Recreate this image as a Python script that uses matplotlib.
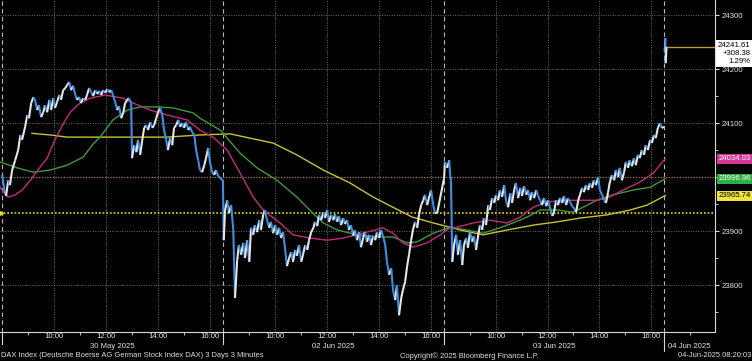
import numpy as np
import matplotlib
matplotlib.use("Agg")
import matplotlib.pyplot as plt
import matplotlib.transforms as mtransforms
from matplotlib.collections import LineCollection
from matplotlib import font_manager

# x axis = minutes since 30 May 08:00 on a session-only scale (each day 08:00-16:30 = 510 min)
DAY_LEN = 510
day_names = ["30 May 2025", "02 Jun 2025", "03 Jun 2025", "04 Jun 2025"]
hour_ticks = [10, 12, 14, 16]
hour_minor = [9, 11, 13, 15]

# DAX 3-minute price path
d1_min = [0, 5, 9, 14, 18, 23, 30, 37, 42, 46, 53, 58, 62, 67, 72, 76, 81, 85, 90, 95,
          99, 104, 109, 113, 118, 122, 127, 132, 136, 141, 146, 150, 155, 159, 164, 169, 173, 178, 182, 187,
          192, 196, 201, 206, 210, 215, 219, 224, 229, 233, 238, 243, 247, 252, 256, 261, 266, 270, 275, 280,
          284, 289, 293, 298, 300, 305, 310, 314, 319, 323, 328, 333, 337, 342, 347, 351, 356, 360, 365, 370,
          374, 379, 383, 388, 393, 397, 402, 407, 411, 416, 420, 425, 430, 434, 439, 444, 448, 453, 457, 462,
          467, 471, 476, 480, 485, 490, 494, 499, 504]
d1_val = [24004, 23976, 23965, 23994, 23985, 24013, 24031, 24050, 24078, 24069, 24093, 24115, 24109, 24137, 24148, 24143, 24124, 24133, 24111, 24120,
          24133, 24120, 24143, 24124, 24146, 24128, 24139, 24152, 24143, 24161, 24165, 24170, 24176, 24161, 24169, 24152, 24143, 24148, 24137, 24146,
          24143, 24152, 24165, 24157, 24150, 24161, 24154, 24159, 24152, 24161, 24156, 24163, 24157, 24161, 24152, 24139, 24124, 24131, 24109, 24120,
          24137, 24143, 24146, 24137, 24035, 24059, 24046, 24069, 24041, 24065, 24091, 24096, 24087, 24102, 24091, 24096, 24109, 24120, 24128, 24115,
          24087, 24069, 24050, 24072, 24059, 24091, 24096, 24106, 24093, 24100, 24091, 24102, 24087, 24093, 24083, 24078, 24050, 24031, 24013, 24009,
          24022, 24035, 24054, 24028, 24009, 24004, 24013, 24002, 23998]

d2_min = [510, 512, 515, 520, 524, 529, 534, 538, 543, 547, 552, 557, 561, 566, 571, 575, 580, 584, 589, 594,
          598, 603, 607, 612, 617, 621, 626, 631, 635, 640, 644, 649, 654, 658, 663, 668, 672, 677, 681, 686,
          691, 695, 700, 705, 709, 714, 719, 723, 728, 732, 737, 742, 746, 751, 755, 760, 765, 769, 774, 778,
          783, 788, 792, 797, 801, 806, 811, 815, 820, 825, 829, 834, 838, 843, 848, 852, 857, 862, 866, 871,
          875, 880, 885, 889, 894, 899, 903, 908, 912, 917, 922, 926, 931, 936, 940, 945, 949, 954, 959, 963,
          968, 973, 977, 982, 986, 991, 996, 1000, 1005]
d2_val = [23994, 23883, 23939, 23957, 23933, 23948, 23902, 23776, 23846, 23874, 23856, 23878, 23850, 23883, 23843, 23906, 23893, 23911, 23898, 23920,
          23902, 23930, 23939, 23920, 23906, 23917, 23896, 23911, 23893, 23906, 23887, 23898, 23865, 23835, 23850, 23861, 23843, 23865, 23854, 23874,
          23843, 23856, 23874, 23865, 23883, 23898, 23906, 23917, 23909, 23930, 23920, 23935, 23924, 23939, 23917, 23930, 23920, 23931, 23917, 23928,
          23911, 23924, 23913, 23920, 23902, 23911, 23891, 23902, 23883, 23898, 23870, 23887, 23898, 23880, 23893, 23874, 23891, 23883, 23898, 23887,
          23902, 23891, 23874, 23843, 23819, 23831, 23791, 23772, 23800, 23744, 23776, 23791, 23806, 23837, 23856, 23883, 23902, 23917, 23906, 23930,
          23948, 23957, 23967, 23948, 23961, 23976, 23948, 23933, 23933]

d3_min = [1021, 1023, 1028, 1033, 1035, 1037, 1040, 1044, 1049, 1053, 1058, 1063, 1067, 1072, 1076, 1081, 1086, 1090, 1095, 1100,
          1104, 1109, 1113, 1118, 1123, 1127, 1132, 1137, 1141, 1146, 1150, 1155, 1160, 1164, 1169, 1174, 1178, 1183, 1187, 1192,
          1197, 1201, 1206, 1211, 1215, 1220, 1224, 1229, 1234, 1238, 1243, 1247, 1252, 1257, 1261, 1266, 1271, 1275, 1280, 1284,
          1289, 1294, 1298, 1303, 1307, 1312, 1317, 1321, 1326, 1331, 1335, 1340, 1344, 1349, 1354, 1358, 1363, 1367, 1372, 1377,
          1381, 1386, 1391, 1395, 1400, 1404, 1409, 1414, 1418, 1423, 1427, 1432, 1437, 1441, 1446, 1450, 1455, 1460, 1464, 1469,
          1473, 1478, 1483, 1487, 1492, 1497, 1501, 1506, 1510, 1515, 1520, 1524, 1529]
d3_val = [23998, 24028, 24017, 24031, 24004, 23994, 23843, 23874, 23893, 23856, 23883, 23837, 23874, 23887, 23869, 23898, 23880, 23891, 23865, 23893,
          23911, 23902, 23924, 23911, 23948, 23939, 23961, 23952, 23967, 23957, 23976, 23963, 23985, 23957, 23944, 23970, 23952, 23976, 23989, 23961,
          23980, 23965, 23983, 23967, 23976, 23957, 23972, 23961, 23976, 23965, 23957, 23948, 23961, 23946, 23957, 23943, 23928, 23935, 23957, 23948,
          23961, 23952, 23965, 23948, 23961, 23954, 23946, 23943, 23935, 23957, 23967, 23980, 23972, 23985, 23976, 23989, 23980, 23994, 23985, 24000,
          23976, 23967, 23957, 23952, 23972, 23991, 24004, 23994, 24013, 24000, 24017, 23994, 24009, 24028, 24017, 24031, 24020, 24035, 24022, 24041,
          24035, 24050, 24041, 24059, 24050, 24069, 24063, 24078, 24072, 24091, 24100, 24091, 24093]

d4_min = [1531, 1532, 1533, 1535]
d4_val = [24232, 24257, 24211, 24241.61]

# moving averages
ma_fast_min = [-5, 5, 14, 30, 46, 65, 88, 104, 122, 139, 157, 180, 203, 238, 280, 303, 342, 381, 427, 457,
               487, 520, 550, 580, 603, 642, 672, 711, 751, 788, 843, 880, 903, 926, 949, 982, 1012, 1035, 1051, 1088,
               1127, 1167, 1197, 1227, 1259, 1305, 1342, 1374, 1398, 1435, 1474, 1504, 1532]
ma_fast_val = [23982, 23970, 23963, 23967, 23976, 23994, 24019, 24035, 24069, 24096, 24120, 24137, 24146, 24152, 24146, 24137, 24124, 24115, 24106, 24087,
               24074, 24050, 24007, 23963, 23939, 23915, 23893, 23887, 23883, 23887, 23898, 23906, 23896, 23878, 23870, 23878, 23893, 23906, 23907, 23915,
               23920, 23915, 23926, 23944, 23954, 23957, 23957, 23957, 23961, 23976, 23991, 24007, 24034.03]

ma_mid_min = [-5, 35, 72, 111, 150, 187, 210, 226, 256, 289, 319, 358, 395, 441, 457, 504, 550, 589, 635, 681,
              718, 742, 774, 820, 873, 903, 936, 959, 996, 1035, 1074, 1111, 1150, 1180, 1213, 1243, 1282, 1319, 1342, 1374,
              1411, 1458, 1497, 1532]
ma_mid_val = [24028, 24017, 24009, 24013, 24022, 24037, 24061, 24074, 24106, 24124, 24130, 24130, 24128, 24119, 24109, 24087, 24044, 24017, 23994, 23963,
              23933, 23915, 23902, 23893, 23889, 23889, 23878, 23880, 23896, 23907, 23902, 23896, 23906, 23915, 23926, 23939, 23939, 23935, 23944, 23957,
              23967, 23976, 23981, 23996.96]

ma_slow_min = [69, 111, 150, 226, 303, 381, 457, 527, 573, 626, 681, 742, 804, 857, 903, 947, 996, 1035, 1058, 1111,
               1167, 1227, 1282, 1335, 1398, 1451, 1490, 1532]
ma_slow_val = [24081, 24078, 24074, 24074, 24074, 24074, 24078, 24080, 24072, 24063, 24041, 24013, 23989, 23963, 23944, 23926, 23915, 23907, 23902, 23893,
               23902, 23911, 23917, 23924, 23930, 23939, 23948, 23965.74]

prev_close = 23933.23
last_price = 24241.61
net_change = 308.38
pct_change = 1.29
level_line = 24000

BG = "black"
TXT = "#e2e2e2"
UP = "#e6e6e6"
DOWN = "#3d8fe6"
FS = 6.4
FS_FOOT = 6.2

installed = {f.name for f in font_manager.fontManager.ttflist}
narrow = [f for f in ["Liberation Sans Narrow", "DejaVu Sans Condensed"] if f in installed]
plt.rcParams["font.family"] = narrow + ["Liberation Sans", "DejaVu Sans"]
if not narrow:
    FS, FS_FOOT = 5.6, 5.4

fig = plt.figure(figsize=(7.52, 3.61), dpi=100, facecolor=BG)
ax = fig.add_axes([0.0, 29 / 361, 715 / 752, 332 / 361], facecolor=BG)

x_end = 1647
ax.set_xlim(-5, x_end)
ax.set_ylim(23713, 24328)

# grid
for d in range(4):
    for h in hour_ticks:
        xm = d * DAY_LEN + (h - 8) * 60
        if xm < x_end:
            ax.axvline(xm, color="#6a6a6a", lw=0.7, ls=(0, (1, 1.5)), zorder=1)
    ax.axvline(d * DAY_LEN, color="#b8b8b8", lw=0.8, ls=(0, (4, 3)), zorder=1)
for yv in [23800, 23900, 24100, 24200, 24300]:
    ax.axhline(yv, color="#6a6a6a", lw=0.7, ls=(0, (1, 1.5)), zorder=1)
ax.axhline(level_line, color="#b07a30", lw=0.9, ls=(0, (1, 1.2)), zorder=1)

# previous close
ax.axhline(prev_close, color="#e8e000", lw=1.2, ls=(0, (1, 1.2)), zorder=2)
ax.plot([-4], [prev_close], marker=">", ms=4, color="#e8e000", clip_on=False, zorder=5)

# moving averages
ax.plot(ma_slow_min, ma_slow_val, color="#c9c23a", lw=1.0, zorder=3)
ax.plot(ma_mid_min, ma_mid_val, color="#3f9a3c", lw=1.0, zorder=3)
ax.plot(ma_fast_min, ma_fast_val, color="#c42a7c", lw=1.0, zorder=3)

# price path, white on up-moves and blue on down-moves
def draw_path(t, v):
    t = np.asarray(t, dtype=float)
    v = np.asarray(v, dtype=float)
    pts = np.column_stack([t, v]).reshape(-1, 1, 2)
    segs = np.concatenate([pts[:-1], pts[1:]], axis=1)
    cols = [UP if b >= a else DOWN for a, b in zip(v[:-1], v[1:])]
    ax.add_collection(LineCollection(segs, colors=cols, linewidths=1.5, zorder=4))

draw_path(d1_min + d2_min + d3_min, d1_val + d2_val + d3_val)
draw_path(d4_min, d4_val)
ax.hlines(last_price, d4_min[-1], x_end, color="#c99a30", lw=1.0, zorder=3)

# axes styling
for s in ["top", "left"]:
    ax.spines[s].set_visible(False)
ax.spines["right"].set_color("#d8d8d8")
ax.spines["bottom"].set_color("#d8d8d8")

ax.yaxis.tick_right()
# the 24000 label sits under the green tag in the original, so it is left blank
ax.set_yticks([23800, 23900, 24000, 24100, 24200, 24300])
ax.set_yticklabels(["23800", "23900", "", "24100", "24200", "24300"])
ax.set_yticks([23750, 23850, 23950, 24050, 24150, 24250], minor=True)
ax.tick_params(axis="y", which="major", colors=TXT, labelsize=FS, length=3, width=0.8, pad=1.5)
ax.tick_params(axis="y", which="minor", colors=TXT, length=2, width=0.6)

xt, xl, xmn = [], [], []
for d in range(4):
    for h in hour_ticks:
        xm = d * DAY_LEN + (h - 8) * 60
        if xm < x_end:
            xt.append(xm)
            xl.append(f"{h}:00")
    for h in hour_minor:
        xm = d * DAY_LEN + (h - 8) * 60
        if xm < x_end:
            xmn.append(xm)
ax.set_xticks(xt)
ax.set_xticklabels(xl)
ax.set_xticks(xmn, minor=True)
ax.tick_params(axis="x", which="major", colors=TXT, labelsize=FS, length=0, pad=1)
ax.tick_params(axis="x", which="minor", colors=TXT, length=2, width=0.6)

# day labels and separators below the axis
trans_x = mtransforms.blended_transform_factory(ax.transData, ax.transAxes)
for d, name in enumerate(day_names):
    x0 = d * DAY_LEN
    ax.plot([x0, x0], [0, -0.058 if d == 3 else -0.035], color="#d8d8d8", lw=0.8,
            transform=trans_x, clip_on=False)
    if d < 3:
        ax.text(x0 + DAY_LEN / 2, -0.043, name, transform=trans_x, ha="center", va="center",
                color=TXT, fontsize=FS)
    else:
        ax.text(x0 + 9, -0.043, name, transform=trans_x, ha="left", va="center",
                color=TXT, fontsize=FS)

# value tags on the right
trans_y = mtransforms.blended_transform_factory(ax.transAxes, ax.transData)
ax.text(1.004, 24250, f"{last_price:.2f}\n+{net_change:.2f}\n{pct_change:.2f}%", transform=trans_y,
        ha="left", va="top", multialignment="right", fontsize=FS, color="black", linespacing=1.15,
        bbox=dict(boxstyle="square,pad=0.25", fc="white", ec="none"), clip_on=False, zorder=6)
tags = [(ma_fast_val[-1], "#d63592", "white"),
        (ma_mid_val[-1], "#2fae46", "white"),
        (ma_slow_val[-1], "#f0e23c", "black")]
for val, fc, tc in tags:
    ax.text(1.005, val, f"{val:.2f}", transform=trans_y, ha="left", va="center", fontsize=FS,
            color=tc, bbox=dict(boxstyle="square,pad=0.2", fc=fc, ec="none"), clip_on=False, zorder=6)

# footer
fig.text(0.001, 0.014, "DAX Index (Deutsche Boerse AG German Stock Index DAX) 3 Days 3 Minutes",
         ha="left", va="center", color=TXT, fontsize=FS_FOOT)
fig.text(0.624, 0.014, "Copyright\u00a9 2025 Bloomberg Finance L.P.", ha="center", va="center",
         color=TXT, fontsize=FS_FOOT)
fig.text(0.999, 0.014, "04-Jun-2025 08:20:03", ha="right", va="center", color=TXT, fontsize=FS_FOOT)

fig.savefig("out.png", dpi=100, facecolor=BG)
